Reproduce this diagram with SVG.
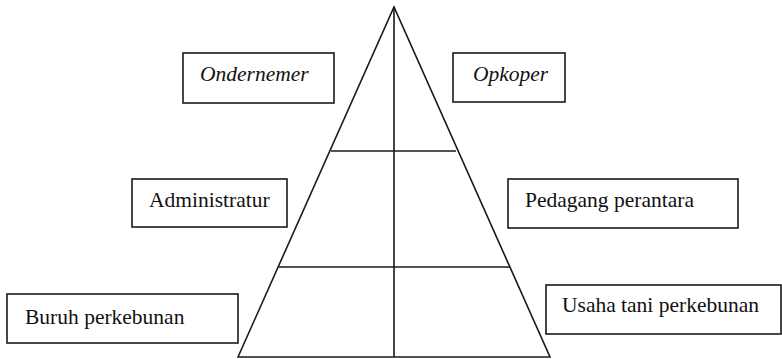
<svg xmlns="http://www.w3.org/2000/svg" width="782" height="359" viewBox="0 0 782 359">
<style>
.box{fill:#fff;stroke:#1a1a1a;stroke-width:1.6}
.t{font-family:"Liberation Serif","Times New Roman",serif;font-size:21.5px;fill:#111}
.i{font-style:italic}
.ln{stroke:#1a1a1a;stroke-width:1.6;fill:none}
</style>
<rect width="782" height="359" fill="#fff"/>
<g id="connectors">
<path class="ln" d="M238,357 L394,7 L550,357 Z"/>
<line class="ln" x1="394" y1="7" x2="394" y2="357"/>
<line class="ln" x1="331" y1="151" x2="456" y2="151"/>
<line class="ln" x1="279" y1="267" x2="510" y2="267"/>
</g>
<g id="ondernemer"><rect class="box" x="183" y="53" width="151" height="50"/><text class="t i" x="200" y="81">Ondernemer</text></g>
<g id="opkoper"><rect class="box" x="453" y="53" width="112" height="49"/><text class="t i" x="473" y="81">Opkoper</text></g>
<g id="administratur"><rect class="box" x="132" y="179" width="155" height="48"/><text class="t" x="149" y="207">Administratur</text></g>
<g id="pedagang"><rect class="box" x="508" y="179" width="230" height="49"/><text class="t" x="525" y="207">Pedagang perantara</text></g>
<g id="buruh"><rect class="box" x="7" y="294" width="231" height="49"/><text class="t" x="25" y="324">Buruh perkebunan</text></g>
<g id="usaha"><rect class="box" x="546" y="285" width="235" height="49"/><text class="t" x="562" y="312">Usaha tani perkebunan</text></g>
</svg>
